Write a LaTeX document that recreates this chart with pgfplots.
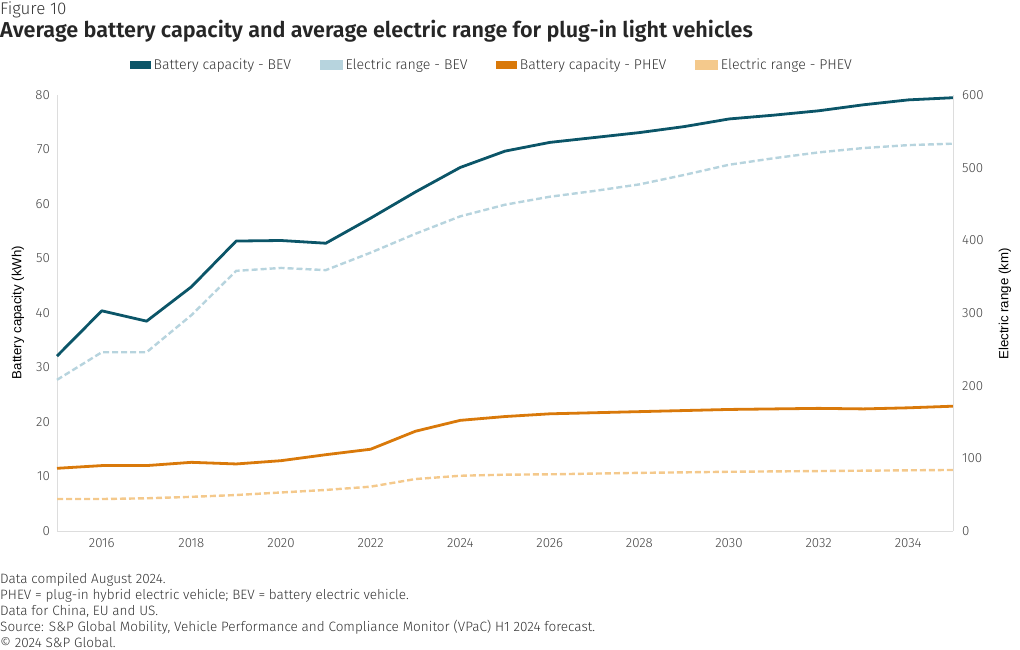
\documentclass[border=0pt]{standalone}
\usepackage{fontspec}
\setmainfont{Fira Sans Light}[BoldFont={Fira Sans SemiBold}]
\newfontfamily\arialfont{Liberation Sans}
\usepackage{pgfplots}
\pgfplotsset{compat=1.18}
\definecolor{bevb}{HTML}{0B5568}
\definecolor{bevr}{HTML}{B7D4DE}
\definecolor{phevb}{HTML}{D9790A}
\definecolor{phevr}{HTML}{F4C98C}
\definecolor{axgray}{HTML}{DDDDDD}
\definecolor{txt}{HTML}{333333}
\definecolor{ticktxt}{HTML}{444444}
\pgfplotstableread{
year bevb phevb
2015 32.1 11.5
2016 40.4 12.0
2017 38.5 12.0
2018 44.8 12.6
2019 53.2 12.3
2020 53.3 12.9
2021 52.8 14.0
2022 57.4 15.0
2023 62.2 18.3
2024 66.7 20.3
2025 69.7 21.0
2026 71.3 21.5
2027 72.2 21.7
2028 73.1 21.9
2029 74.2 22.1
2030 75.6 22.3
2031 76.3 22.4
2032 77.1 22.5
2033 78.2 22.4
2034 79.1 22.6
2035 79.5 22.9
}\battery
\pgfplotstableread{
year bevr phevr
2015 208 44
2016 246 44
2017 246 45
2018 297 47
2019 358 49.5
2020 362 53
2021 359 56.5
2022 383 61
2023 409 71.5
2024 433 76
2025 449 77.5
2026 460 78
2027 468 79
2028 477 80
2029 490 80.7
2030 504 81.5
2031 513 82
2032 521 82.5
2033 527 83
2034 531 83.5
2035 533 84
}\range
\begin{document}
\begin{tikzpicture}[x=1bp,y=1bp]
\path (0,0) rectangle (1020,650);
\pgfplotsset{
  myaxis/.style={
    at={(57bp,119bp)}, anchor=south west,
    width=896bp, height=436bp, scale only axis,
    xmin=2015, xmax=2035,
    axis line style={draw=axgray, line width=0.8bp},
    major tick length=0pt,
    tick label style={font=\fontsize{13.3}{15}\selectfont, text=ticktxt, inner sep=0pt},
    /pgf/number format/assume math mode=true,
    /pgf/number format/1000 sep={},
    clip=false,
  }
}
\begin{axis}[myaxis,
  ymin=0, ymax=80, ytick={0,10,...,80},
  axis y line*=left, axis x line*=bottom,
  xtick={2016,2018,...,2034},
  xticklabel style={anchor=north, yshift=-7bp},
  yticklabel style={anchor=east, xshift=-7bp},
]
\addplot[color=bevb, line width=2.8bp, line join=round] table[x=year,y=bevb]{\battery};
\addplot[color=phevb, line width=2.8bp, line join=round] table[x=year,y=phevb]{\battery};
\end{axis}
\begin{axis}[myaxis,
  ymin=0, ymax=600, ytick={0,100,...,600},
  axis y line*=right, axis x line=none,
  yticklabel style={anchor=west, xshift=9bp},
  legend columns=4,
  legend style={draw=none, fill=none, at={(rel axis cs:0.0815,1.0688)}, anchor=west,
    font=\fontsize{14.2}{16}\selectfont, text=txt, inner sep=0pt,
    /tikz/every even column/.append style={column sep=29bp},
    /tikz/every odd column/.append style={column sep=3bp},
    nodes={inner sep=0pt, anchor=west}},
  legend image code/.code={\fill[#1, solid] (0bp,-3.5bp) rectangle (20bp,3.5bp);},
]
\addlegendimage{color=bevb}
\addlegendentry{Battery capacity - BEV}
\addplot[color=bevr, line width=2.4bp, dash pattern=on 6bp off 3bp] table[x=year,y=bevr]{\range};
\addlegendentry{Electric range - BEV}
\addlegendimage{color=phevb}
\addlegendentry{Battery capacity - PHEV}
\addplot[color=phevr, line width=2.4bp, dash pattern=on 6bp off 3bp] table[x=year,y=phevr]{\range};
\addlegendentry{Electric range - PHEV}
\end{axis}
\node[anchor=base west, inner sep=0, text=txt, font=\fontsize{17}{19}\selectfont] at (0,635) {Figure 10};
\node[anchor=base west, inner sep=0, text=black!85, font=\fontsize{21.7}{24}\selectfont\bfseries] at (0,612.7) {Average battery capacity and average electric range for plug-in light vehicles};
\node[rotate=90, inner sep=0, text=black, font=\arialfont\fontsize{13.3}{15}\selectfont] at (18,337.5) {Battery capacity (kWh)};
\node[rotate=90, inner sep=0, text=black, font=\arialfont\fontsize{13.3}{15}\selectfont] at (1005,346) {Electric range (km)};
\begin{scope}[every node/.style={anchor=base west, inner sep=0, text=txt, font=\fontsize{13.6}{15}\selectfont}]
\node at (0,66.5) {Data compiled August 2024.};
\node at (0,50.5) {PHEV = plug-in hybrid electric vehicle; BEV = battery electric vehicle.};
\node at (0,34.5) {Data for China, EU and US.};
\node at (0,18.5) {Source: S\&P Global Mobility, Vehicle Performance and Compliance Monitor (VPaC) H1 2024 forecast.};
\node at (0,2.7) {© 2024 S\&P Global.};
\end{scope}
\end{tikzpicture}
\end{document}
